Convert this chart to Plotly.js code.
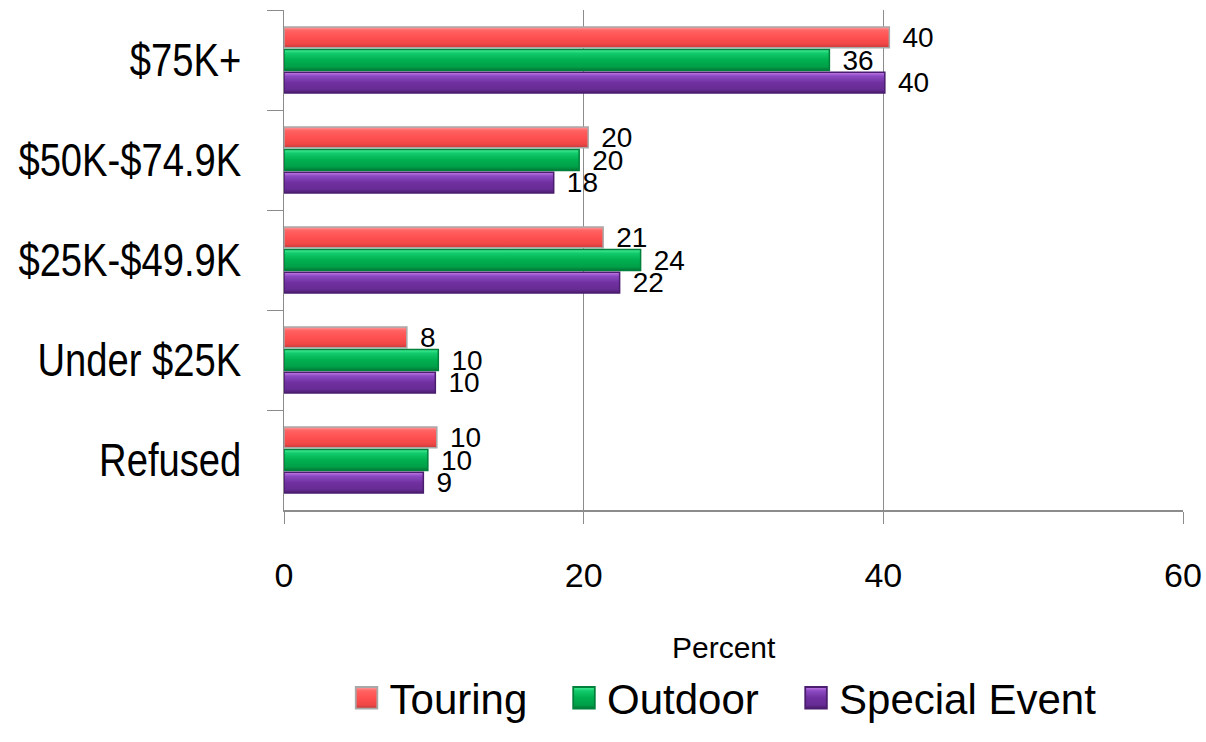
<!DOCTYPE html>
<html>
<head>
<meta charset="utf-8">
<script src="https://cdn.plot.ly/plotly-3.0.1.min.js"></script>
<style>
  html, body { margin: 0; padding: 0; background: #fff; }
  #chart { width: 1206px; height: 742px; }
</style>
</head>
<body>
<div id="chart"></div>
<script>
// ---- data ----
const categories = ["$75K+", "$50K-$74.9K", "$25K-$49.9K", "Under $25K", "Refused"];
const seriesNames = ["Touring", "Outdoor", "Special Event"];
const touring = [40.4, 20.3, 21.3, 8.2, 10.2];
const outdoor = [36.4, 19.7, 23.8, 10.3, 9.6];
const specialEvent = [40.1, 18.0, 22.4, 10.1, 9.3];
const xTickVals = [0, 20, 40, 60];
const xTickText = ["0", "20", "40", "60"];
const axisTitle = "Percent";

const fills = ["#FF5252", "#00B050", "#7030A0"];
const outlines = ["#A8A8A8", "#00803A", "#4A1D6E"];
const gradients = [
  ["#FFA0A0", "#FF6262", "#FF5050", "#F04646", "#C23C3C"],
  ["#48F29A", "#12CA6C", "#00B050", "#00A048", "#007A38"],
  ["#C47CEA", "#8C4AC2", "#7030A0", "#662C94", "#4A1D6E"]
];
const values = [touring, outdoor, specialEvent];
const legendIds = ["legend", "legend2", "legend3"];
const legendX = [0.0729, 0.3148, 0.5729];
const FONT = "Liberation Sans, Arial, sans-serif";

const traces = values.map((v, i) => ({
  type: "bar",
  orientation: "h",
  name: seriesNames[i],
  legend: legendIds[i],
  x: v,
  y: categories,
  marker: { color: fills[i], line: { color: outlines[i], width: 1.5 } },
  texttemplate: "\u00A0\u200A%{x:.0f}",
  textposition: "outside",
  constraintext: "none",
  cliponaxis: false,
  textfont: { family: FONT, size: 28, color: "#000" },
  hoverinfo: "skip"
}));

function legendDef(x) {
  return {
    orientation: "h",
    x: x, xanchor: "left",
    y: -0.376, yanchor: "middle",
    font: { family: FONT, size: 42, color: "#000" },
    bgcolor: "rgba(0,0,0,0)",
    borderwidth: 0
  };
}

const layout = {
  width: 1206,
  height: 742,
  margin: { l: 284, r: 23, t: 10, b: 222 },
  paper_bgcolor: "#ffffff",
  plot_bgcolor: "#ffffff",
  barmode: "group",
  bargap: 0.32,
  bargroupgap: 0.08,
  showlegend: true,
  legend: legendDef(legendX[0]),
  legend2: legendDef(legendX[1]),
  legend3: legendDef(legendX[2]),
  xaxis: {
    range: [0, 60],
    tickvals: xTickVals,
    ticktext: xTickText,
    showgrid: true,
    gridcolor: "#8c8c8c",
    gridwidth: 1,
    zeroline: false,
    showline: true,
    linecolor: "#8c8c8c",
    linewidth: 1.5,
    ticks: "outside",
    ticklen: 12,
    tickcolor: "#8c8c8c",
    ticklabelstandoff: 23,
    tickfont: { family: FONT, size: 34, color: "#000" },
    fixedrange: true
  },
  yaxis: {
    autorange: "reversed",
    type: "category",
    showgrid: false,
    zeroline: false,
    showline: true,
    linecolor: "#8c8c8c",
    linewidth: 1.5,
    ticks: "outside",
    tickson: "boundaries",
    ticklen: 16,
    tickcolor: "#8c8c8c",
    ticklabelstandoff: 32,
    tickfont: { family: FONT, size: 46, color: "#000" },
    fixedrange: true
  },
  annotations: [{
    text: axisTitle,
    xref: "paper", yref: "paper",
    x: 0.4894, y: -0.2745,
    xanchor: "center", yanchor: "middle",
    showarrow: false,
    font: { family: FONT, size: 30, color: "#000" }
  }]
};

const SVGNS = "http://www.w3.org/2000/svg";

Plotly.newPlot("chart", traces, layout, { displayModeBar: false, staticPlot: true }).then(gd => {
  // Narrow (condensed) category labels, like Arial Narrow
  gd.querySelectorAll(".yaxislayer-above .ytick text").forEach(t => {
    const len = t.getComputedTextLength();
    t.setAttribute("textLength", (len * 0.83).toFixed(1));
    t.setAttribute("lengthAdjust", "spacingAndGlyphs");
  });

  // Bevel-like vertical gradients on bars and legend keys
  const svg = gd.querySelector(".main-svg");
  let defs = svg.querySelector("defs");
  if (!defs) { defs = document.createElementNS(SVGNS, "defs"); svg.insertBefore(defs, svg.firstChild); }
  const offs = ["0%", "18%", "50%", "82%", "100%"];
  gradients.forEach((stops, i) => {
    const lg = document.createElementNS(SVGNS, "linearGradient");
    lg.setAttribute("id", "bevel" + i);
    lg.setAttribute("x1", "0"); lg.setAttribute("y1", "0");
    lg.setAttribute("x2", "0"); lg.setAttribute("y2", "1");
    stops.forEach((c, k) => {
      const s = document.createElementNS(SVGNS, "stop");
      s.setAttribute("offset", offs[k]);
      s.setAttribute("stop-color", c);
      lg.appendChild(s);
    });
    defs.appendChild(lg);
  });
  gd.querySelectorAll(".barlayer .trace").forEach((tr, i) => {
    tr.querySelectorAll(".point path").forEach(p => { p.style.fill = "url(#bevel" + i + ")"; });
  });
  legendIds.forEach((id, i) => {
    gd.querySelectorAll("g." + id + " .legendpoints path").forEach(p => {
      p.style.fill = "url(#bevel" + i + ")";
      p.setAttribute("transform", "translate(17,0) scale(1.8)");
      p.style.strokeWidth = "1px";
    });
  });
});
</script>
</body>
</html>
